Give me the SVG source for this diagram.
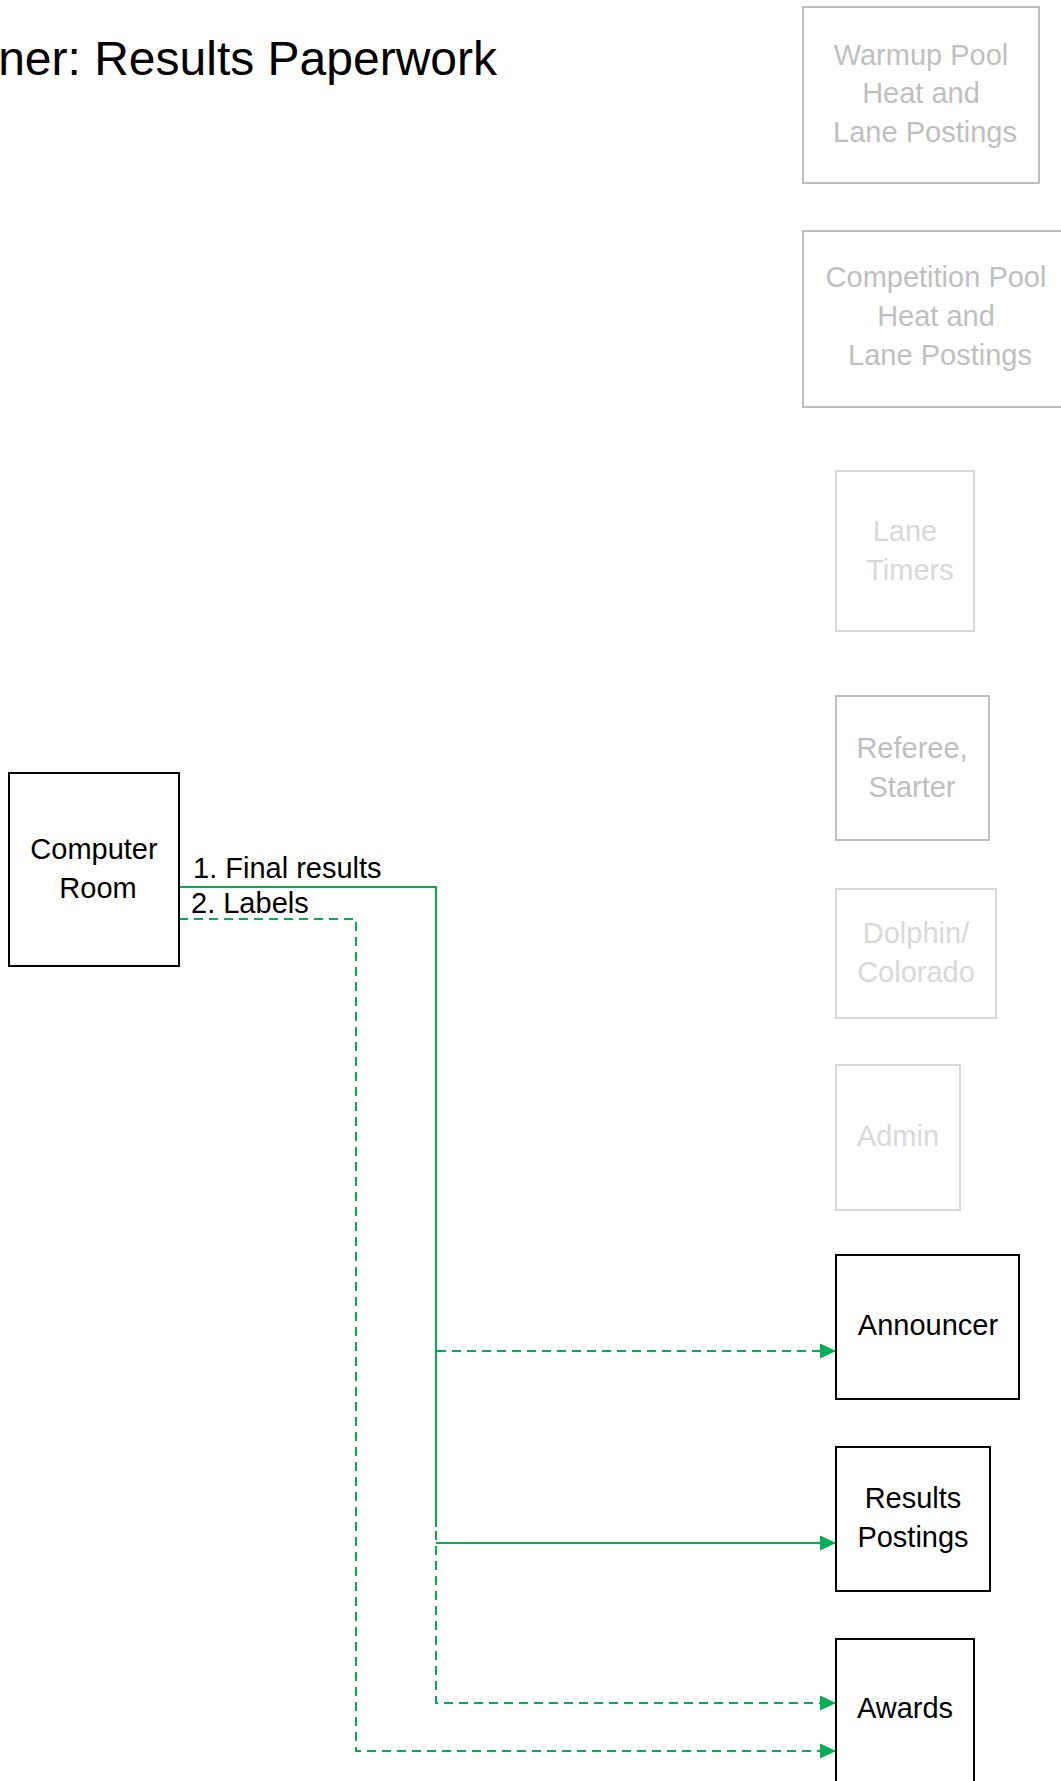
<svg xmlns="http://www.w3.org/2000/svg" width="1061" height="1781" viewBox="0 0 1061 1781">
<defs>
<marker id="arr" markerWidth="16" markerHeight="15" refX="16" refY="7.5" orient="auto" markerUnits="userSpaceOnUse">
<path d="M0,0 L16,7.5 L0,15 Z" fill="#00B050"/>
</marker>
<style>
text{font-family:"Liberation Sans",Arial,sans-serif;font-size:29px;}
.c{text-anchor:middle;}
.blk rect{fill:#fff;stroke:#000;stroke-width:2;}
.blk text{fill:#000;}
.g1 rect{fill:#fff;stroke:#BFBFBF;stroke-width:2;}
.g1 text{fill:#BFBFBF;}
.g2 rect{fill:#fff;stroke:#D9D9D9;stroke-width:2;}
.g2 text{fill:#D9D9D9;}
.solid{fill:none;stroke:#00B050;stroke-width:2;}
.dash{fill:none;stroke:#00B050;stroke-width:2;stroke-dasharray:9 6;}
</style>
</defs>
<rect width="1061" height="1781" fill="#fff"/>
<text x="497" y="75" style="font-size:48px;text-anchor:end">ner: Results Paperwork</text>

<g id="connectors">
<path class="dash" d="M436,887 V1351 H836" marker-end="url(#arr)"/>
<path class="dash" d="M436,1351 V1703 H836" marker-end="url(#arr)"/>
<path class="dash" d="M179,919 H356 V1751 H836" marker-end="url(#arr)"/>
<path class="solid" d="M179,887 H436 V1527"/>
<path class="solid" d="M436,1543 H836" marker-end="url(#arr)"/>
<text x="193" y="878">1. Final results</text>
<text x="191" y="913">2. Labels</text>
</g>

<g id="computer-room" class="blk">
<rect x="9" y="773" width="170" height="193"/>
<text class="c" x="94" y="859">Computer</text>
<text class="c" x="98" y="898">Room</text>
</g>

<g id="warmup-pool" class="g1">
<rect x="803" y="7" width="236" height="176"/>
<text class="c" x="921" y="65">Warmup Pool</text>
<text class="c" x="921" y="103">Heat and</text>
<text class="c" x="925" y="142">Lane Postings</text>
</g>

<g id="competition-pool" class="g1">
<rect x="803" y="231" width="270" height="176"/>
<text class="c" x="936" y="287">Competition Pool</text>
<text class="c" x="936" y="326">Heat and</text>
<text class="c" x="940" y="365">Lane Postings</text>
</g>

<g id="lane-timers" class="g2">
<rect x="836" y="471" width="138" height="160"/>
<text class="c" x="905" y="541">Lane</text>
<text class="c" x="910" y="580">Timers</text>
</g>

<g id="referee-starter" class="g1">
<rect x="836" y="696" width="153" height="144"/>
<text class="c" x="912" y="758">Referee,</text>
<text class="c" x="912" y="797">Starter</text>
</g>

<g id="dolphin-colorado" class="g2">
<rect x="836" y="889" width="160" height="129"/>
<text class="c" x="916" y="943">Dolphin/</text>
<text class="c" x="916" y="982">Colorado</text>
</g>

<g id="admin" class="g2">
<rect x="836" y="1065" width="124" height="145"/>
<text class="c" x="898" y="1146">Admin</text>
</g>

<g id="announcer" class="blk">
<rect x="836" y="1255" width="183" height="144"/>
<text class="c" x="928" y="1335">Announcer</text>
</g>

<g id="results-postings" class="blk">
<rect x="836" y="1447" width="154" height="144"/>
<text class="c" x="913" y="1508">Results</text>
<text class="c" x="913" y="1547">Postings</text>
</g>

<g id="awards" class="blk">
<rect x="836" y="1639" width="138" height="160"/>
<text class="c" x="905" y="1718">Awards</text>
</g>
</svg>
